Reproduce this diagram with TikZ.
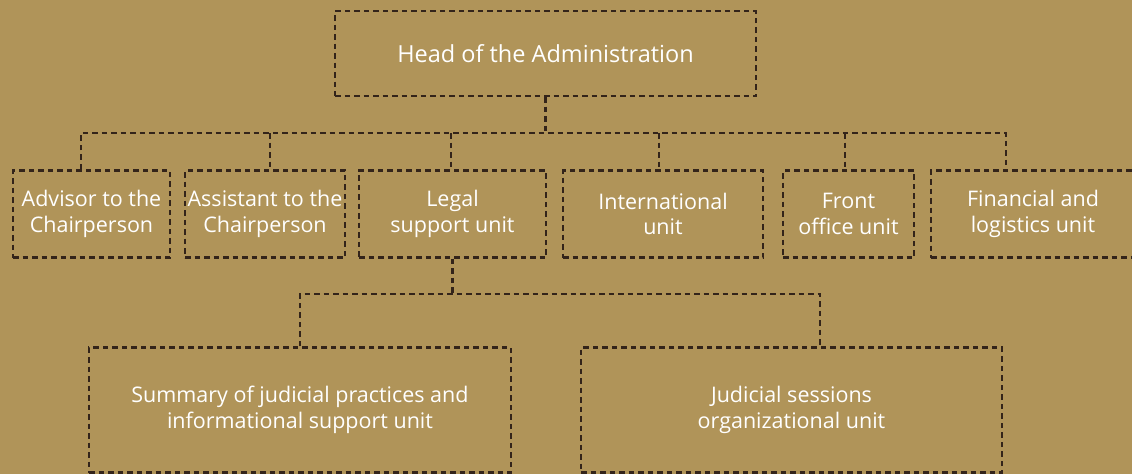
\documentclass[tikz,border=0pt]{standalone}
\usepackage{fontspec}
\setmainfont{Open Sans}
\definecolor{bgtan}{HTML}{B09459}
\definecolor{linebrown}{HTML}{33241A}

\begin{document}
\begin{tikzpicture}[x=1pt,y=-1pt,
  unit/.style={draw=linebrown,line width=2.4pt,dash pattern=on 5.5pt off 4pt,
    text=white,align=center,inner sep=0pt,font=\fontsize{21.5}{25.5}\selectfont},
  link/.style={draw=linebrown,line width=2.4pt,dash pattern=on 5.5pt off 4pt}]
\fill[bgtan] (0,0) rectangle (1132,474);
\clip (0,0) rectangle (1132,474);

\node[unit,minimum width=421pt,minimum height=85pt,font=\fontsize{23.5}{28}\selectfont] (head) at (545.5,53.5) {Head of the Administration};

\node[unit,minimum width=157pt,minimum height=87pt] (advisor) at (91.5,214) {Advisor to the\\Chairperson};
\node[unit,minimum width=160pt,minimum height=87pt] (assistant) at (265,214) {Assistant to the\\Chairperson};
\node[unit,minimum width=187pt,minimum height=87pt] (legal) at (452.5,214) {Legal\\support unit};
\node[unit,minimum width=200pt,minimum height=87pt] (intl) at (663,214) {International\\unit};
\node[unit,minimum width=131pt,minimum height=87pt] (front) at (848.5,214) {Front\\office unit};
\node[unit,minimum width=204pt,minimum height=87pt] (finance) at (1033,214) {Financial and\\logistics unit};

\node[unit,minimum width=422pt,minimum height=125pt] (summary) at (300,410) {Summary of judicial practices and\\informational support unit};
\node[unit,minimum width=421pt,minimum height=125pt] (sessions) at (791.5,410) {Judicial sessions\\organizational unit};

% upper bus
\coordinate (b_1) at (81,133);
\coordinate (b_2) at (270,133);
\coordinate (b_3) at (451,133);
\coordinate (b_4) at (659,133);
\coordinate (b_5) at (845,133);
\coordinate (b_6) at (1006,133);

\draw[link] (head.south) -- (head.south |- b_1);
\draw[link] (b_1 |- advisor.north) -- (b_1) -- (b_6) -- (b_6 |- finance.north);
\draw[link] (b_2) -- (b_2 |- assistant.north);
\draw[link] (b_3) -- (b_3 |- legal.north);
\draw[link] (b_4) -- (b_4 |- intl.north);
\draw[link] (b_5) -- (b_5 |- front.north);

% lower bus
\coordinate (c_1) at (300,294);
\coordinate (c_2) at (820,294);

\draw[link] (legal.south) -- (legal.south |- c_1);
\draw[link] (c_1 |- summary.north) -- (c_1) -- (c_2) -- (c_2 |- sessions.north);

\end{tikzpicture}
\end{document}
